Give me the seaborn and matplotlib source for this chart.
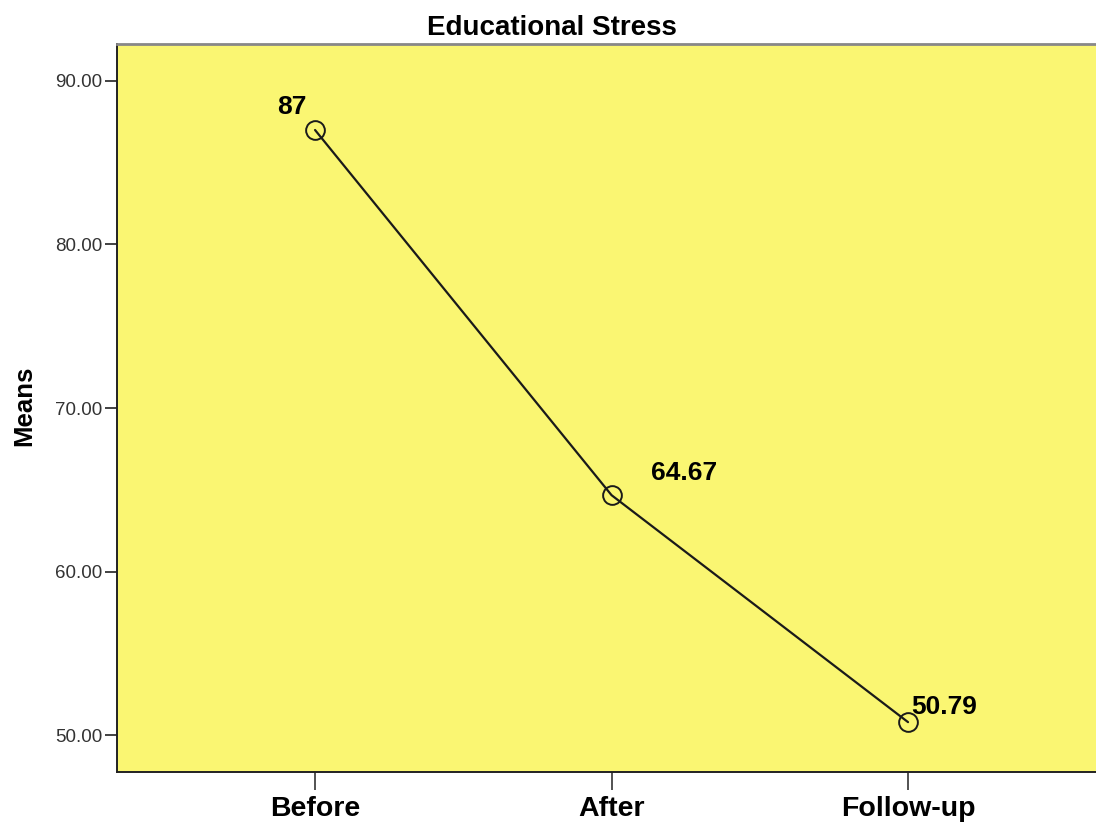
import matplotlib
matplotlib.use("Agg")
import matplotlib.pyplot as plt
import seaborn as sns
import pandas as pd

# data
phases = ["Before", "After", "Follow-up"]
means = [87.0, 64.67, 50.79]
value_labels = ["87", "64.67", "50.79"]

sns.set_style("white")
plt.rcParams['font.family'] = ['Liberation Sans', 'DejaVu Sans']
plt.rcParams['text.color'] = 'black'

df = pd.DataFrame({"phase": phases, "mean": means})

fig = plt.figure(figsize=(10.96, 8.23), dpi=100)
ax = fig.add_axes([117 / 1096, 51 / 823, 1 - 117 / 1096, 728 / 823])
ax.set_facecolor("#faf672")

sns.pointplot(data=df, x="phase", y="mean", order=phases, color="#1a1a1a",
              markers="o", markersize=13.5, markerfacecolor="none",
              markeredgewidth=1.4, linewidth=1.6, errorbar=None, ax=ax)

# value labels beside each point (offsets in points)
offsets = [(-17, 16.5, "center"), (52, 16, "center"), (2, 11, "left")]
for i, (v, lab) in enumerate(zip(means, value_labels)):
    dx, dy, ha = offsets[i]
    ax.annotate(lab, xy=(i, v), xytext=(dx, dy), textcoords="offset points",
                ha=ha, va="center", fontsize=19, fontweight="bold", color="black")

ax.set_xlim(-0.668, 2.634)
ax.set_ylim(47.74, 92.26)
ax.set_yticks([50, 60, 70, 80, 90])
ax.set_yticklabels([f"{t:.2f}" for t in [50, 60, 70, 80, 90]])
ax.set_xlabel("")
ax.set_ylabel("")

ax.tick_params(axis="y", which="major", left=True, length=8.5, width=1.3,
               color="#333333", labelsize=13.5, labelcolor="#333333", pad=2)
ax.tick_params(axis="x", which="major", bottom=True, length=13, width=1.3,
               color="#444444", labelsize=20.5, labelcolor="black", pad=4)
for t in ax.get_xticklabels():
    t.set_fontweight("bold")

for side in ["left", "bottom"]:
    ax.spines[side].set_color("#222222")
    ax.spines[side].set_linewidth(1.4)
ax.spines["top"].set_color("#888888")
ax.spines["top"].set_linewidth(2)
ax.spines["right"].set_visible(False)

fig.text(552 / 1096, (823 - 35) / 823, "Educational Stress", ha="center",
         va="baseline", fontsize=20, fontweight="bold", color="black")
fig.text(24 / 1096, (823 - 406) / 823, "Means", ha="center", va="center",
         rotation=90, fontsize=18.5, fontweight="bold", color="black")

fig.savefig("out.png", dpi=100, facecolor="white")
